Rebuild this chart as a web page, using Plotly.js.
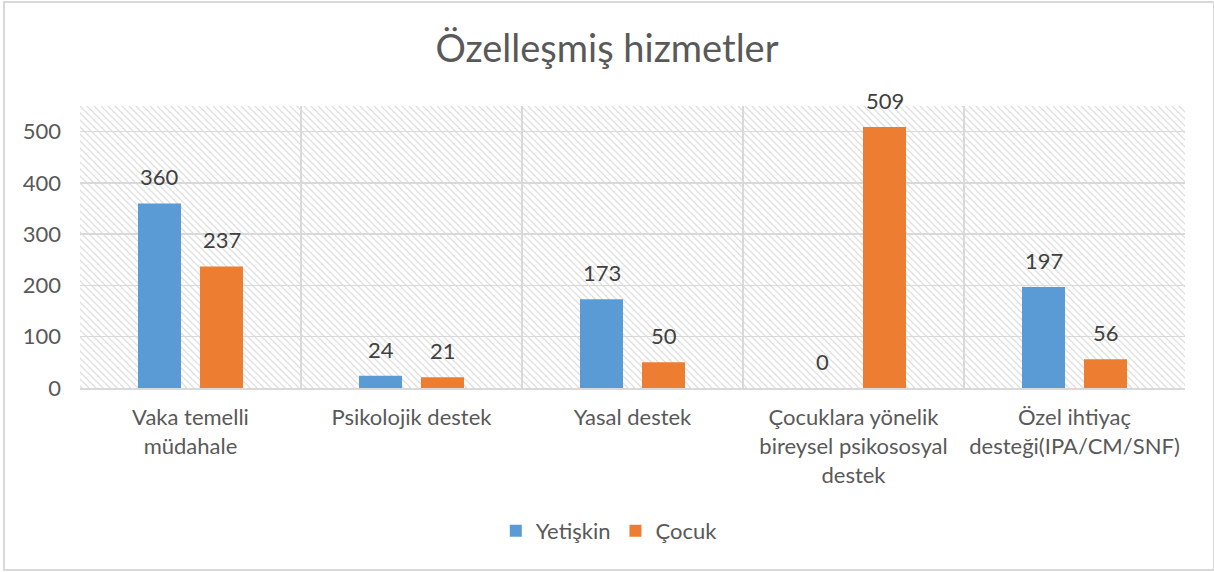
<!DOCTYPE html>
<html>
<head>
<meta charset="utf-8">
<script src="https://cdn.plot.ly/plotly-3.0.1.min.js"></script>
<style>
html,body{margin:0;padding:0;background:#fff;}
#wrap{position:relative;width:1214px;height:572px;}
#chart{width:1214px;height:572px;}
#frame{position:absolute;left:3px;top:1px;width:1208px;height:566px;border:2px solid #d9d9d9;pointer-events:none;}
</style>
</head>
<body>
<div id="wrap"><div id="chart"></div><div id="frame"></div></div>
<script>
const categories = [
  "Vaka temelli<br>müdahale",
  "Psikolojik destek",
  "Yasal destek",
  "Çocuklara yönelik<br>bireysel psikososyal<br>destek",
  "Özel ihtiyaç<br>desteği(IPA/CM/SNF)"
];
const seriesNames = ["Yetişkin", "Çocuk"];
const yetiskin = [360, 24, 173, 0, 197];
const cocuk = [237, 21, 50, 509, 56];
const seriesColors = ["#5B9BD5", "#ED7D31"];
const yTicks = [0, 100, 200, 300, 400, 500];

const FONT = "Lato, 'Open Sans', sans-serif";

const traces = [yetiskin, cocuk].map((vals, i) => ({
  type: "bar",
  name: seriesNames[i],
  x: categories,
  y: vals,
  marker: {color: seriesColors[i]},
  hoverinfo: "none"
}));

const annotations = [];
[yetiskin, cocuk].forEach((vals, i) => {
  vals.forEach((v, j) => {
    annotations.push({
      x: categories[j], y: v, xref: "x", yref: "y",
      text: String(v), showarrow: false,
      xanchor: "center", yanchor: "bottom",
      xshift: i === 0 ? -31 : 31, yshift: 11,
      font: {family: FONT, size: 22, color: "#404040"}
    });
  });
});

const hatch = "<svg xmlns='http://www.w3.org/2000/svg' width='1105' height='282'>" +
  "<defs><pattern id='p' width='7' height='7' patternUnits='userSpaceOnUse'>" +
  "<path d='M-1,-1 L8,8 M-1,6 L1,8 M6,-1 L8,1' stroke='#e0e0e0' stroke-width='1.3'/>" +
  "</pattern></defs><rect width='1105' height='282' fill='white'/><rect width='1105' height='282' fill='url(#p)'/></svg>";
const hatchURI = "data:image/svg+xml;charset=utf-8," + encodeURIComponent(hatch);

const layout = {
  width: 1214, height: 572,
  margin: {l: 80, r: 29, t: 106, b: 184},
  paper_bgcolor: "#ffffff",
  plot_bgcolor: "rgba(0,0,0,0)",
  font: {family: FONT, color: "#595959", size: 22},
  title: {
    text: "Özelleşmiş hizmetler",
    font: {family: FONT, size: 38, color: "#595959"},
    x: 0.5, xanchor: "center", y: 0.915, yanchor: "middle", yref: "container"
  },
  barmode: "group",
  bargap: 0.439,
  bargroupgap: 0.306,
  xaxis: {
    type: "category",
    tickson: "boundaries",
    showgrid: true, gridcolor: "#d9d9d9", gridwidth: 1.5,
    showline: true, linecolor: "#d9d9d9", linewidth: 2,
    ticks: "", ticklabelstandoff: 9,
    tickfont: {family: FONT, size: 22, color: "#595959"},
    fixedrange: true
  },
  yaxis: {
    range: [0, 550],
    tickvals: yTicks,
    ticktext: yTicks.map(String),
    showgrid: true, gridcolor: "#d9d9d9", gridwidth: 1.5,
    zeroline: false, showline: false,
    ticks: "", ticklabelstandoff: 18,
    tickfont: {family: FONT, size: 22, color: "#595959"},
    fixedrange: true
  },
  legend: {
    orientation: "h",
    x: 0.479, xanchor: "center",
    y: -0.507, yanchor: "middle",
    font: {family: FONT, size: 22, color: "#595959"},
    itemclick: false, itemdoubleclick: false,
    traceorder: "normal"
  },
  images: [{
    source: hatchURI, xref: "paper", yref: "paper",
    x: 0, y: 1, sizex: 1, sizey: 1, sizing: "stretch",
    xanchor: "left", yanchor: "top", layer: "below"
  }],
  annotations: annotations,
  showlegend: true
};

Plotly.newPlot("chart", traces, layout, {displayModeBar: false, staticPlot: true});
</script>
</body>
</html>
